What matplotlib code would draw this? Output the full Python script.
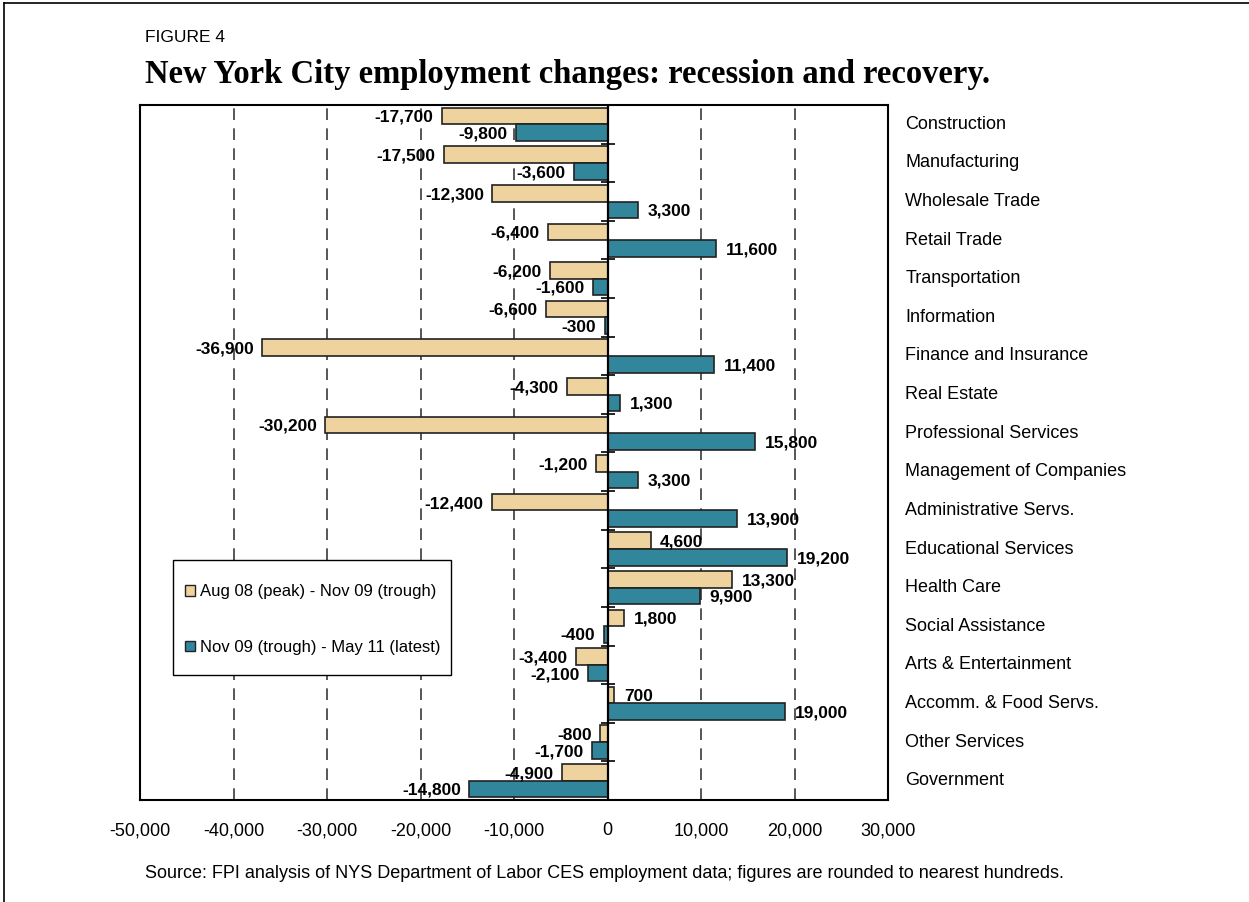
import numpy as np
import matplotlib
matplotlib.use("Agg")
import matplotlib.pyplot as plt
from matplotlib.patches import Patch, Rectangle
from matplotlib.lines import Line2D

# employment change by sector, NYC
sectors = ["Construction", "Manufacturing", "Wholesale Trade", "Retail Trade",
           "Transportation", "Information", "Finance and Insurance", "Real Estate",
           "Professional Services", "Management of Companies", "Administrative Servs.",
           "Educational Services", "Health Care", "Social Assistance",
           "Arts & Entertainment", "Accomm. & Food Servs.", "Other Services", "Government"]
recession = [-17700, -17500, -12300, -6400, -6200, -6600, -36900, -4300, -30200,
             -1200, -12400, 4600, 13300, 1800, -3400, 700, -800, -4900]
recovery = [-9800, -3600, 3300, 11600, -1600, -300, 11400, 1300, 15800,
            3300, 13900, 19200, 9900, -400, -2100, 19000, -1700, -14800]
series_names = ["Aug 08 (peak) - Nov 09 (trough)", "Nov 09 (trough) - May 11 (latest)"]
xticks = [-50000, -40000, -30000, -20000, -10000, 0, 10000, 20000, 30000]

TAN = "#EED39E"
TEAL = "#32869C"
EDGE = "#222222"

plt.rcParams["font.family"] = ["Liberation Sans", "DejaVu Sans"]

W, H = 1249, 902
fig = plt.figure(figsize=(W / 100, H / 100), dpi=100)
ax = fig.add_axes([140 / W, 1 - 800 / H, 748 / W, 695 / H])

y = np.arange(len(sectors))
off, bh = 0.215, 0.43
ax.barh(y - off, recession, height=bh, color=TAN, edgecolor=EDGE, linewidth=1.2, zorder=3)
ax.barh(y + off, recovery, height=bh, color=TEAL, edgecolor=EDGE, linewidth=1.2, zorder=3)

# value labels
for vals, dy in [(recession, -off), (recovery, off)]:
    for yi, v in zip(y, vals):
        txt = f"{v:,}"
        if v < 0:
            ax.annotate(txt, (v, yi + dy), xytext=(-6, -1), textcoords="offset points",
                        ha="right", va="center", fontsize=12.5, fontweight="bold", zorder=5)
        else:
            ax.annotate(txt, (v, yi + dy), xytext=(7, -1), textcoords="offset points",
                        ha="left", va="center", fontsize=12.5, fontweight="bold", zorder=5)

# zero line with small ticks between sectors
ax.axvline(0, color="black", lw=1.6, zorder=4)
bounds = np.arange(len(sectors) + 1) - 0.5
ax.plot(np.zeros(len(bounds)), bounds, ls="none", marker="_", ms=10, mew=1.2,
        color="black", zorder=4, clip_on=False)

for g in [-40000, -30000, -20000, -10000, 10000, 20000]:
    ax.axvline(g, color="#3a3a3a", lw=1.2, ls=(0, (7, 5)), zorder=1)

ax.set_xlim(-50000, 30000)
ax.set_ylim(len(sectors) - 0.5, -0.5)
ax.set_xticks(xticks)
ax.set_xticklabels([f"{t:,}" for t in xticks], fontsize=13)
ax.tick_params(axis="x", length=0, pad=16)
ax.set_yticks([])
for s in ax.spines.values():
    s.set_linewidth(1.5)
    s.set_color("black")

# sector names on the right side
for yi, name in zip(y, sectors):
    ax.text(1.023, yi, name, transform=ax.get_yaxis_transform(), ha="left", va="center",
            fontsize=13)

# legend: entries without frame, box drawn separately
ax.add_patch(Rectangle((0.0441, 0.1799), 0.3717, 0.1655, transform=ax.transAxes,
                       facecolor="white", edgecolor="black", lw=1.0, zorder=6))
handles = [Patch(facecolor=TAN, edgecolor=EDGE, lw=1), Patch(facecolor=TEAL, edgecolor=EDGE, lw=1)]
leg = ax.legend(handles, series_names, loc="center left", bbox_to_anchor=(0.0595, 0.2597),
                fontsize=12, frameon=False, handlelength=0.6, handleheight=0.6,
                handletextpad=0.3, labelspacing=2.42, borderpad=0, borderaxespad=0)
leg.set_zorder(7)

fig.text(145 / W, 1 - 38 / H, "FIGURE 4", fontsize=12.5, ha="left", va="center")
fig.text(145 / W, 1 - 75 / H, "New York City employment changes: recession and recovery.",
         fontsize=23.5, fontweight="bold", family="Liberation Serif", ha="left", va="center")
fig.text(145 / W, 1 - 873 / H,
         "Source: FPI analysis of NYS Department of Labor CES employment data; figures are rounded to nearest hundreds.",
         fontsize=13, ha="left", va="center")

# outer frame (left and top edges)
fig.add_artist(Line2D([4 / W, 4 / W], [0, 1 - 3 / H], color="black", lw=1.2, transform=fig.transFigure))
fig.add_artist(Line2D([4 / W, 1], [1 - 3 / H, 1 - 3 / H], color="black", lw=1.2, transform=fig.transFigure))

fig.savefig("out.png", dpi=100)
